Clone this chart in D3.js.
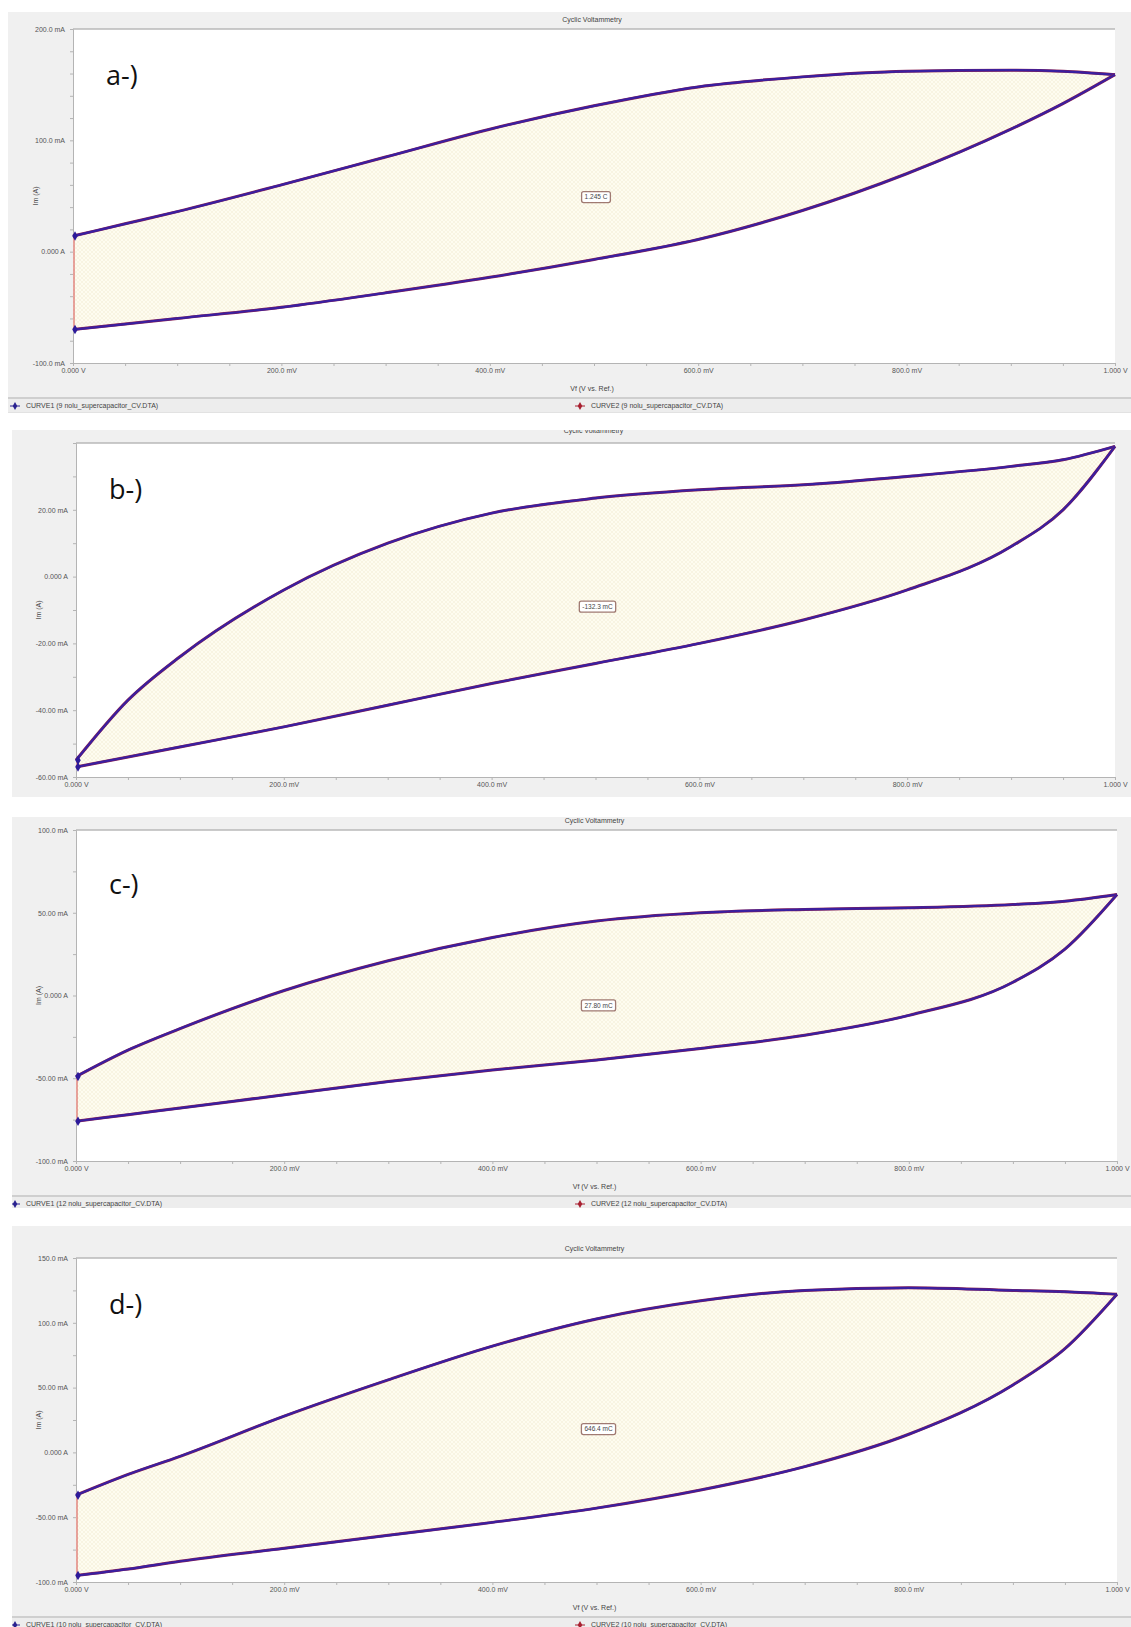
<!DOCTYPE html>
<html>
<head>
<meta charset="utf-8">
<script src="https://cdn.jsdelivr.net/npm/d3@7"></script>
<style>
  body { margin: 0; background: #fff; }
  svg { display: block; font-family: "Liberation Sans", Arial, sans-serif; }
  .axis text { font-size: 7px; fill: #555; }
  .axis path, .axis line { stroke: #b4b4b4; }
  .small { font-size: 7px; fill: #444; }
  .letter { font-family: "Open Sans", "Noto Sans", sans-serif; font-size: 27px; fill: #111; }
</style>
</head>
<body>
<svg width="1131" height="1627"></svg>
<script>
// potentiel (mV)
const voltages = [0, 50, 100, 200, 300, 400, 500, 600, 700, 800, 900, 950, 1000];

// courant (mA) : balayage aller / retour
const aForward = [14, 25, 36, 60, 85, 110, 131, 148, 157, 162, 163, 162, 159];
const aReverse = [-70, -65, -60, -50, -37, -23, -7, 11, 37, 70, 110, 133, 159];
const bForward = [-55, -37, -24, -4, 10, 19, 23.5, 26, 27.5, 30, 33, 35, 39];
const bReverse = [-57, -54, -51, -45, -38.5, -32, -26, -20, -13, -4, 9, 20, 39];
const cForward = [-49, -33, -20, 3, 21, 35, 45, 50, 52, 53, 55, 57, 61];
const cReverse = [-76, -72, -68, -60, -52, -45, -39, -32, -24, -12, 8, 28, 61];
const dForward = [-33, -17, -3, 28, 56, 82, 103, 117, 125, 127, 125, 124, 122];
const dReverse = [-95, -90, -84, -74, -64, -54, -43, -29, -11, 14, 52, 80, 122];

// graduations
const xTicks = [0, 200, 400, 600, 800, 1000];
const aTicks = [-100, 0, 100, 200];
const bTicks = [-60, -40, -20, 0, 20];
const cTicks = [-100, -50, 0, 50, 100];
const dTicks = [-100, -50, 0, 50, 100, 150];

// textes
const panelNames = ["a-)", "b-)", "c-)", "d-)"];
const charges = ["1.245 C", "-132.3 mC", "27.80 mC", "646.4 mC"];
const dataFiles = ["9 nolu_supercapacitor_CV.DTA", "9 nolu_supercapacitor_CV.DTA",
                   "12 nolu_supercapacitor_CV.DTA", "10 nolu_supercapacitor_CV.DTA"];

// mise en page de chaque capture
const panels = [
  { box: [8, 12, 1131, 413], plot: [73, 29, 1115, 363], yDomain: [-100, 200], ticks: aTicks, minor: 20,
    fwd: aForward, rev: aReverse, legend: true, chargeAt: 49, title: true, letterY: 56 },
  { box: [12, 430, 1131, 797], plot: [76, 443, 1115, 777], yDomain: [-60, 40], ticks: bTicks, minor: 10,
    fwd: bForward, rev: bReverse, legend: false, chargeAt: -9, title: "cut", letterY: 56 },
  { box: [12, 817, 1131, 1208], plot: [76, 830, 1117, 1161], yDomain: [-100, 100], ticks: cTicks, minor: 25,
    fwd: cForward, rev: cReverse, legend: true, chargeAt: -6, title: true, letterY: 64 },
  { box: [12, 1226, 1131, 1627], plot: [76, 1258, 1117, 1582], yDomain: [-100, 150], ticks: dTicks, minor: 25,
    fwd: dForward, rev: dReverse, legend: true, chargeAt: 18, title: true, letterY: 56 }
];

const svg = d3.select("svg");
svg.append("rect").attr("width", 1131).attr("height", 1627).attr("fill", "#fff");

const defs = svg.append("defs");
const pat = defs.append("pattern")
    .attr("id", "hatch")
    .attr("patternUnits", "userSpaceOnUse")
    .attr("width", 4).attr("height", 4);
pat.append("rect").attr("width", 4).attr("height", 4).attr("fill", "#fefcf0");
pat.append("path").attr("d", "M0,4 L4,0 M0,0 L4,4").attr("stroke", "#f4eed8").attr("stroke-width", 0.6);

const fmtI = v => v === 0 ? "0.000 A" : (Math.abs(v) >= 100 ? v.toFixed(1) : v.toFixed(2)) + " mA";
const fmtV = v => (v === 0 || v === 1000) ? (v / 1000).toFixed(3) + " V" : v.toFixed(1) + " mV";

panels.forEach((p, i) => {
    const [bx0, by0, bx1, by1] = p.box;
    const [px0, py0, px1, py1] = p.plot;
    const cx = (px0 + px1) / 2 - 2;

    const clipId = "clip" + i;
    defs.append("clipPath").attr("id", clipId)
        .append("rect").attr("x", bx0).attr("y", by0).attr("width", bx1 - bx0).attr("height", by1 - by0);

    const g = svg.append("g").attr("clip-path", `url(#${clipId})`);

    // fond gris de la fenêtre
    g.append("rect").attr("x", bx0).attr("y", by0).attr("width", bx1 - bx0).attr("height", by1 - by0)
        .attr("fill", "#f0f0f0");

    const x = d3.scaleLinear().domain([0, 1000]).range([px0, px1]);
    const y = d3.scaleLinear().domain(p.yDomain).range([py1, py0]);

    // zone de tracé
    g.append("rect").attr("x", px0).attr("y", py0).attr("width", px1 - px0).attr("height", py1 - py0)
        .attr("fill", "#fff");
    g.append("line").attr("x1", px0).attr("x2", px1).attr("y1", py0).attr("y2", py0)
        .attr("stroke", "#b8b8b8").attr("stroke-width", 1.5);

    // titre
    const titleY = p.title === "cut" ? by0 + 1 : py0 - 9;
    g.append("text").attr("class", "small").attr("x", cx).attr("y", titleY)
        .attr("text-anchor", "middle").attr("dy", "0.35em").text("Cyclic Voltammetry");

    // axe Y
    const minorY = d3.range(p.yDomain[0], p.yDomain[1] + 0.001, p.minor);
    g.append("g").attr("class", "axis")
        .attr("transform", `translate(${px0},0)`)
        .call(d3.axisLeft(y).tickValues(minorY).tickSize(3).tickFormat(""));
    g.append("g").attr("class", "axis")
        .attr("transform", `translate(${px0},0)`)
        .call(d3.axisLeft(y).tickValues(p.ticks).tickSize(0).tickPadding(8).tickFormat(fmtI))
        .call(a => a.select(".domain").remove());

    g.append("text").attr("class", "small")
        .attr("transform", `translate(${px0 - 35},${(py0 + py1) / 2}) rotate(-90)`)
        .attr("text-anchor", "middle").text("Im (A)");

    // axe X
    const minorX = d3.range(0, 1001, 50);
    g.append("g").attr("class", "axis")
        .attr("transform", `translate(0,${py1})`)
        .call(d3.axisBottom(x).tickValues(minorX).tickSize(3).tickFormat(""));
    g.append("g").attr("class", "axis")
        .attr("transform", `translate(0,${py1})`)
        .call(d3.axisBottom(x).tickValues(xTicks).tickSize(0).tickPadding(5).tickFormat(fmtV))
        .call(a => a.select(".domain").remove());

    const pts = voltages.map((v, k) => ({ v, up: p.fwd[k], lo: p.rev[k] }));

    // surface intégrée
    g.append("path").datum(pts)
        .attr("fill", "url(#hatch)")
        .attr("d", d3.area().x(d => x(d.v)).y0(d => y(d.lo)).y1(d => y(d.up)).curve(d3.curveMonotoneX));

    // segment rouge à 0 V
    g.append("line").attr("x1", x(0) + 1).attr("x2", x(0) + 1)
        .attr("y1", y(p.fwd[0])).attr("y2", y(p.rev[0]))
        .attr("stroke", "#d24a4a").attr("stroke-width", 1);

    // courbes
    const line = key => d3.line().x(d => x(d.v)).y(d => y(d[key])).curve(d3.curveMonotoneX);
    ["up", "lo"].forEach(key => {
        g.append("path").datum(pts).attr("fill", "none")
            .attr("stroke", "#8a2050").attr("stroke-width", 3).attr("d", line(key));
        g.append("path").datum(pts).attr("fill", "none")
            .attr("stroke", "#3a1fa0").attr("stroke-width", 2.2).attr("d", line(key));
    });

    // marqueurs de départ
    [p.fwd[0], p.rev[0]].forEach(val => {
        g.append("path").attr("d", d3.symbol(d3.symbolDiamond, 26)())
            .attr("transform", `translate(${x(0) + 2},${y(val)})`)
            .attr("fill", "#2c1a9a");
    });

    // charge
    const lab = g.append("g").attr("transform", `translate(${x(500) + 2},${y(p.chargeAt)})`);
    const t = lab.append("text").attr("class", "small").attr("text-anchor", "middle").attr("dy", "0.35em")
        .style("font-size", "6.5px").text(charges[i]);
    const w = t.node().getComputedTextLength() + 6;
    lab.insert("rect", "text").attr("x", -w / 2).attr("y", -5.5).attr("width", w).attr("height", 11)
        .attr("rx", 2).attr("fill", "#fff").attr("stroke", "#a07a72").attr("stroke-width", 1.3);

    // lettre
    g.append("text").attr("class", "letter").attr("x", px0 + 33).attr("y", py0 + p.letterY).text(panelNames[i]);

    if (p.legend) {
        const axisTitleY = py1 + 26;
        g.append("text").attr("class", "small").attr("x", cx).attr("y", axisTitleY)
            .attr("text-anchor", "middle").attr("dy", "0.35em").text("Vf (V vs. Ref.)");
        const ly = axisTitleY + 9;
        g.append("rect").attr("x", bx0).attr("y", ly).attr("width", bx1 - bx0).attr("height", 15)
            .attr("fill", "#ededed");
        g.append("line").attr("x1", bx0).attr("x2", bx1).attr("y1", ly).attr("y2", ly)
            .attr("stroke", "#c4c4c4").attr("stroke-width", 1.5);
        g.append("line").attr("x1", bx0).attr("x2", bx1).attr("y1", ly + 15).attr("y2", ly + 15)
            .attr("stroke", "#d6d6d6").attr("stroke-width", 1);
        [["CURVE1", 15, "#2a2290"], ["CURVE2", 580, "#a82030"]].forEach(([name, lx, col]) => {
            const item = g.append("g").attr("transform", `translate(${lx},${ly + 8})`);
            item.append("line").attr("x1", -5).attr("x2", 5).attr("stroke", col).attr("stroke-width", 1);
            item.append("path").attr("d", d3.symbol(d3.symbolDiamond, 18)()).attr("fill", col);
            item.append("text").attr("class", "small").attr("x", 11).attr("dy", "0.35em")
                .text(`${name} (${dataFiles[i]})`);
        });
    }
});
</script>
</body>
</html>
